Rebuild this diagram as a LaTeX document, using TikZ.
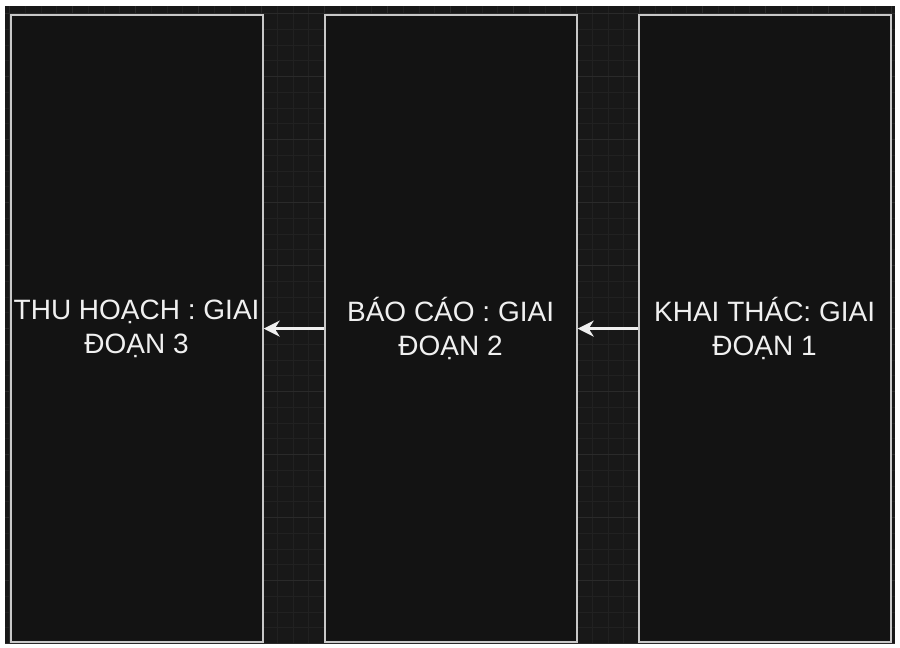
\documentclass[tikz,border=0pt]{standalone}
\usepackage{fontspec}
\setmainfont{Liberation Sans}
\usetikzlibrary{arrows.meta}
\definecolor{bgdark}{HTML}{181818}
\definecolor{gridminor}{HTML}{212121}
\definecolor{gridmajor}{HTML}{2A2A2A}
\definecolor{boxfill}{HTML}{131313}
\definecolor{boxline}{HTML}{C8C8C8}
\definecolor{txt}{HTML}{F0F0F0}
\begin{document}
\begin{tikzpicture}[x=1pt,y=-1pt,
  stage/.style={draw=boxline,line width=2.2pt,fill=boxfill,minimum width=252pt,minimum height=627pt,inner sep=0pt,
    text=txt,font=\fontsize{28}{34}\selectfont,align=center,anchor=north west},
  flow/.style={draw=txt,line width=2.4pt,-{Stealth[length=16pt,width=16pt,inset=5pt]}}]
\useasboundingbox (0,0) rectangle (900,648);
\fill[white] (0,0) rectangle (900,648);
\fill[bgdark] (5,6) rectangle (895,643);
\begin{scope}
\clip (5,6) rectangle (895,643);
\foreach \i in {-1,...,56} {
  \draw[gridminor,line width=0.9pt] ({9.5+15.75*\i},6) -- ({9.5+15.75*\i},643);
}
\foreach \i in {-1,...,41} {
  \draw[gridminor,line width=0.9pt] (5,{13.5+15.75*\i}) -- (895,{13.5+15.75*\i});
}
\foreach \i in {-1,...,14} {
  \draw[gridmajor,line width=1pt] ({9.5+63*\i},6) -- ({9.5+63*\i},643);
}
\foreach \i in {-1,...,10} {
  \draw[gridmajor,line width=1pt] (5,{13.5+63*\i}) -- (895,{13.5+63*\i});
}
\end{scope}
\node[stage] (s3) at (9.5,14) {THU HOẠCH : GIAI\\ĐOẠN 3};
\node[stage] (s2) at (323.5,14) {BÁO CÁO : GIAI\\ĐOẠN 2};
\node[stage] (s1) at (637.5,14) {KHAI THÁC: GIAI\\ĐOẠN 1};
\draw[flow] (s1.west) -- (s2.east);
\draw[flow] (s2.west) -- (s3.east);
\end{tikzpicture}
\end{document}
